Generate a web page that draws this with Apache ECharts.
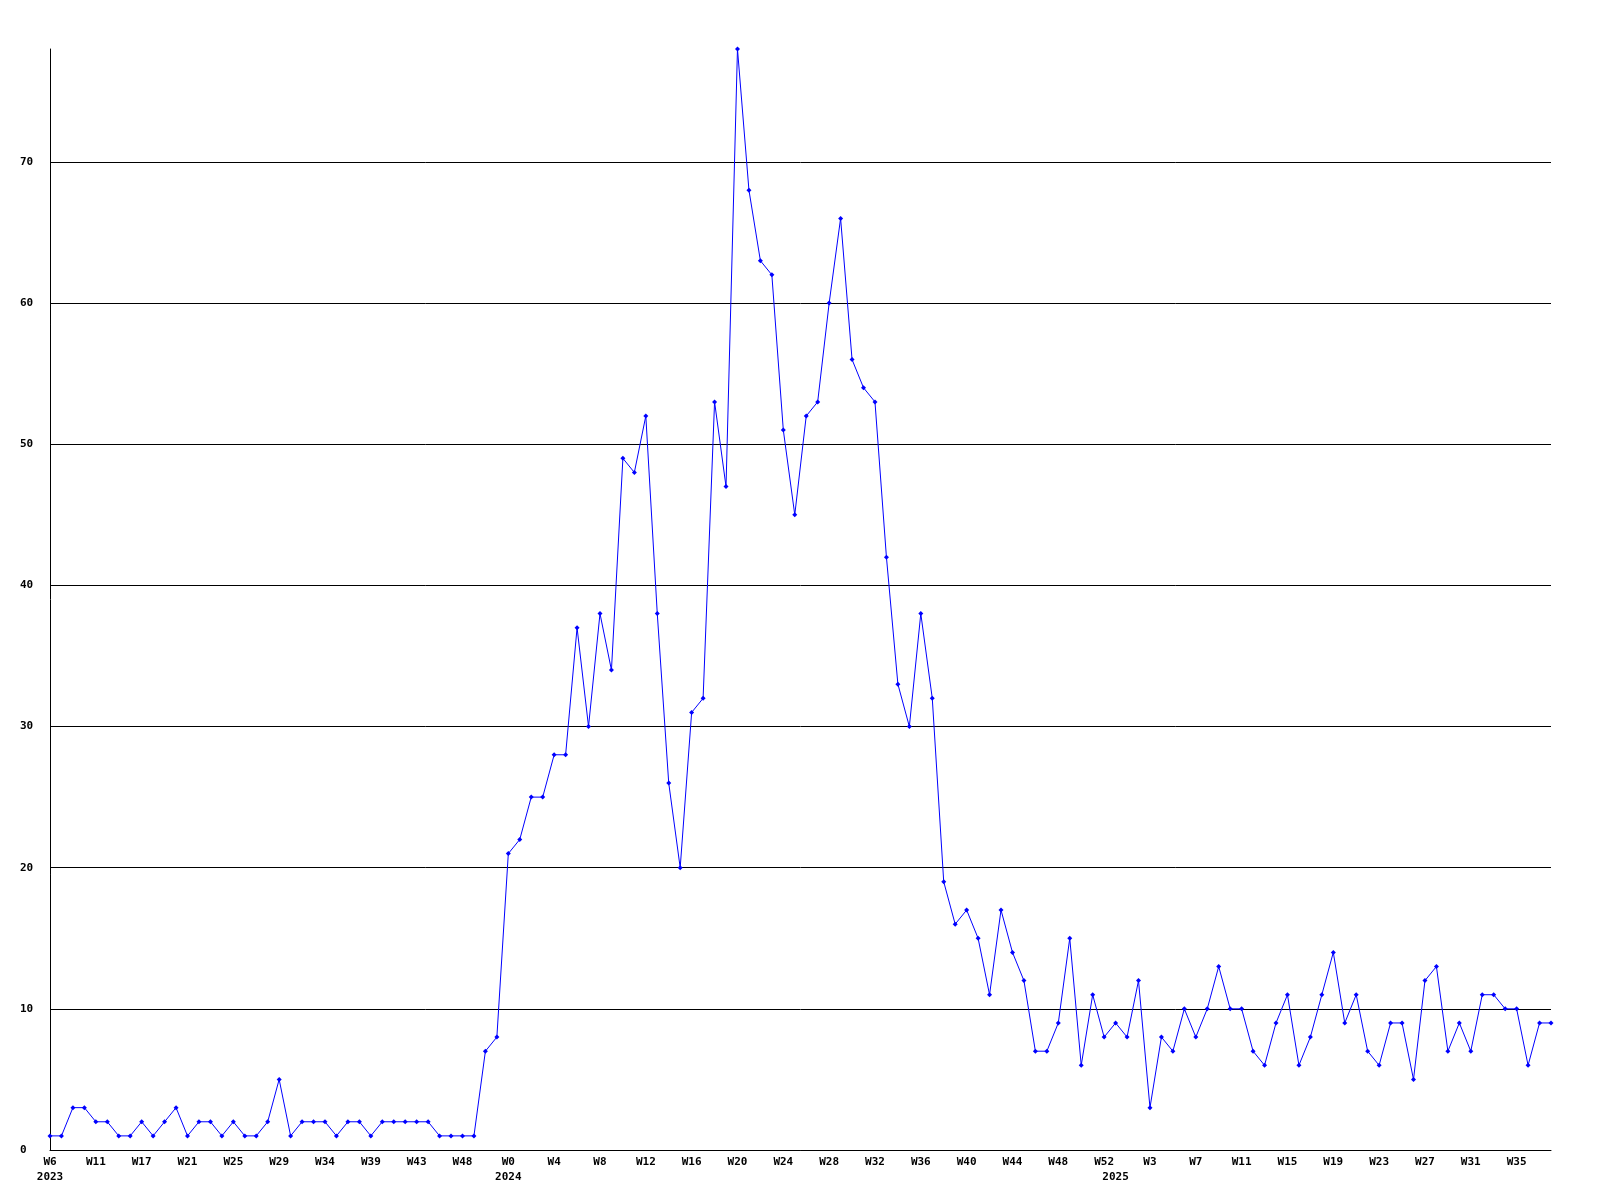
<!DOCTYPE html>
<html>
<head>
<meta charset="utf-8">
<script src="https://cdn.jsdelivr.net/npm/echarts@6/dist/echarts.min.js"></script>
<style>
html,body{margin:0;padding:0;background:#fff;}
#chart{width:1600px;height:1200px;}
</style>
</head>
<body>
<div id="chart"></div>
<script>
// Week categories (year-week)
const categories = [
  '2023-W6','2023-W7','2023-W8','2023-W9','2023-W11','2023-W12','2023-W13','2023-W14','2023-W17','2023-W18',
  '2023-W19','2023-W20','2023-W21','2023-W22','2023-W23','2023-W24','2023-W25','2023-W26','2023-W27','2023-W28',
  '2023-W29','2023-W30','2023-W31','2023-W32','2023-W34','2023-W35','2023-W36','2023-W37','2023-W39','2023-W40',
  '2023-W41','2023-W42','2023-W43','2023-W44','2023-W45','2023-W46','2023-W48','2023-W49','2023-W50','2023-W51',
  '2024-W0','2024-W1','2024-W2','2024-W3','2024-W4','2024-W5','2024-W6','2024-W7','2024-W8','2024-W9',
  '2024-W10','2024-W11','2024-W12','2024-W13','2024-W14','2024-W15','2024-W16','2024-W17','2024-W18','2024-W19',
  '2024-W20','2024-W21','2024-W22','2024-W23','2024-W24','2024-W25','2024-W26','2024-W27','2024-W28','2024-W29',
  '2024-W30','2024-W31','2024-W32','2024-W33','2024-W34','2024-W35','2024-W36','2024-W37','2024-W38','2024-W39',
  '2024-W40','2024-W41','2024-W42','2024-W43','2024-W44','2024-W45','2024-W46','2024-W47','2024-W48','2024-W49',
  '2024-W50','2024-W51','2024-W52',
  '2025-W0','2025-W1','2025-W2','2025-W3','2025-W4','2025-W5','2025-W6','2025-W7','2025-W8','2025-W9',
  '2025-W10','2025-W11','2025-W12','2025-W13','2025-W14','2025-W15','2025-W16','2025-W17','2025-W18','2025-W19',
  '2025-W20','2025-W21','2025-W22','2025-W23','2025-W24','2025-W25','2025-W26','2025-W27','2025-W28','2025-W29',
  '2025-W30','2025-W31','2025-W32','2025-W33','2025-W34','2025-W35','2025-W36','2025-W37','2025-W38'
];

// Weekly counts
const values = [
  1,1,3,3,2,2,1,1,2,1,
  2,3,1,2,2,1,2,1,1,2,
  5,1,2,2,2,1,2,2,1,2,
  2,2,2,2,1,1,1,1,7,8,
  21,22,25,25,28,28,37,30,38,34,
  49,48,52,38,26,20,31,32,53,47,
  78,68,63,62,51,45,52,53,60,66,
  56,54,53,42,33,30,38,32,19,16,
  17,15,11,17,14,12,7,7,9,15,
  6,11,8,
  9,8,12,3,8,7,10,8,10,13,
  10,10,7,6,9,11,6,8,11,14,
  9,11,7,6,9,9,5,12,13,7,
  9,7,11,11,10,10,6,9,9
];

const yTicks = { min: 0, max: 78, interval: 10 };

const font = { fontFamily: 'DejaVu Sans Mono', fontWeight: 'bold', fontSize: 11, color: '#000' };

function isYearStart(idx) {
  if (idx === 0) return true;
  return categories[idx].split('-')[0] !== categories[idx - 1].split('-')[0];
}

const chart = echarts.init(document.getElementById('chart'), null, { renderer: 'canvas' });
chart.setOption({
  animation: false,
  backgroundColor: '#ffffff',
  grid: { left: 50, right: 49, top: 49, bottom: 50, containLabel: false },
  xAxis: [
    {
      type: 'category',
      data: categories,
      boundaryGap: false,
      axisLine: { show: true, lineStyle: { color: '#000', width: 1 } },
      axisTick: { show: false },
      splitLine: { show: false },
      axisLabel: Object.assign({
        interval: 3,
        margin: 5,
        lineHeight: 15,
        formatter: v => v.split('-')[1]
      }, font)
    },
    {
      type: 'category',
      data: categories,
      boundaryGap: false,
      position: 'bottom',
      axisLine: { show: false },
      axisTick: { show: false },
      splitLine: { show: false },
      axisLabel: Object.assign({
        interval: (idx) => isYearStart(idx),
        margin: 20,
        lineHeight: 15,
        formatter: v => v.split('-')[0]
      }, font)
    }
  ],
  yAxis: {
    type: 'value',
    min: yTicks.min,
    max: yTicks.max,
    interval: yTicks.interval,
    axisLine: { show: true, lineStyle: { color: '#000', width: 1 } },
    axisTick: { show: false },
    splitLine: { show: true, showMaxLine: false, lineStyle: { color: '#000', width: 1 } },
    axisLabel: Object.assign({
      align: 'left',
      margin: 30,
      showMaxLabel: false
    }, font)
  },
  series: [{
    type: 'line',
    xAxisIndex: 0,
    data: values,
    symbol: 'diamond',
    symbolSize: 5,
    showAllSymbol: true,
    lineStyle: { color: '#0000ff', width: 1 },
    itemStyle: { color: '#0000ff' }
  }]
});
</script>
</body>
</html>
